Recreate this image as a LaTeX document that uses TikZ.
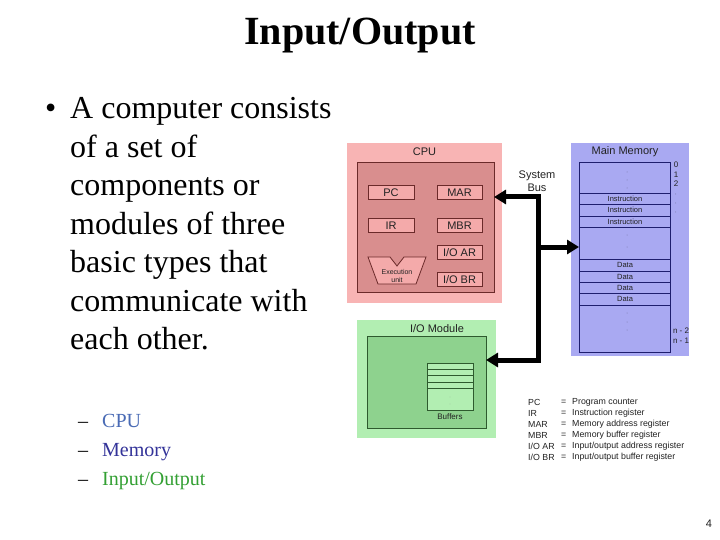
\documentclass[tikz,border=0pt]{standalone}
\usepackage{fontspec}
\setmainfont{Liberation Serif}
\newfontfamily\arialf{Liberation Sans}
\usetikzlibrary{arrows.meta}
\definecolor{cpuout}{HTML}{F8B4B4}
\definecolor{cpuin}{HTML}{D98E8E}
\definecolor{cpureg}{HTML}{F4AAAA}
\definecolor{cpuline}{HTML}{6B2A2A}
\definecolor{memfill}{HTML}{A9A9F2}
\definecolor{memline}{HTML}{1E1E6E}
\definecolor{ioout}{HTML}{B2EEB2}
\definecolor{ioin}{HTML}{8ED28E}
\definecolor{ioline}{HTML}{2E5A2E}
\definecolor{cpuc}{HTML}{4A6BB5}
\definecolor{memc}{HTML}{333399}
\definecolor{ioc}{HTML}{33A033}
\definecolor{dtext}{HTML}{222222}
\begin{document}
\begin{tikzpicture}[x=1pt,y=-1pt,
  box/.style={inner sep=0pt,outer sep=0pt},
  reg/.style={box,draw=cpuline,fill=cpureg,line width=0.8pt,minimum height=14pt,font=\arialf\fontsize{11}{12}\selectfont,text=dtext},
  lbl/.style={inner sep=0pt,font=\arialf\fontsize{11}{12}\selectfont,text=dtext},
  cell/.style={inner sep=0pt,font=\arialf\fontsize{7.5}{8}\selectfont,text=dtext},
  leg/.style={inner sep=0pt,anchor=west,font=\arialf\fontsize{8.8}{10}\selectfont,text=dtext},
  big/.style={inner sep=0pt,anchor=base west,font=\fontsize{32}{38}\selectfont},
  small/.style={inner sep=0pt,anchor=base west,font=\fontsize{20}{24}\selectfont},
  bus/.style={line width=5pt,line join=miter,draw=black},
  tip/.tip={Triangle[length=12pt,width=14pt]}
]
\useasboundingbox[fill=white] (0,0) rectangle (720,540);

% title
\node[inner sep=0pt,anchor=base,font=\bfseries\fontsize{40}{48}\selectfont] (title) at (360,45) {Input/Output};

% bullet text
\node[big] (bul) at (45,119) {\textbullet};
\node[big] (l1) at (70,119) {A computer consists};
\node[big] (l2) at (70,157.4) {of a set of};
\node[big] (l3) at (70,195.8) {components or};
\node[big] (l4) at (70,234.2) {modules of three};
\node[big] (l5) at (70,272.6) {basic types that};
\node[big] (l6) at (70,311) {communicate with};
\node[big] (l7) at (70,349.4) {each other.};

\node[small] (d1) at (78,427) {–};
\node[small] (d2) at (78,456) {–};
\node[small] (d3) at (78,485) {–};
\node[small,text=cpuc] (s1) at (102,427) {CPU};
\node[small,text=memc] (s2) at (102,456) {Memory};
\node[small,text=ioc] (s3) at (102,485) {Input/Output};

% CPU
\node[box,fill=cpuout,minimum width=155pt,minimum height=160pt] (cpu) at (424.5,223) {};
\node[lbl] (cpulbl) at (424.5,152) {CPU};
\node[box,draw=cpuline,fill=cpuin,line width=0.8pt,minimum width=137pt,minimum height=130pt] (cpuin) at (425.5,227) {};
\node[reg,minimum width=46pt] (pc) at (391,192.5) {PC};
\node[reg,minimum width=45pt] (mar) at (459.5,192.5) {MAR};
\node[reg,minimum width=46pt] (ir) at (391,225.5) {IR};
\node[reg,minimum width=45pt] (mbr) at (459.5,225.5) {MBR};
\node[reg,minimum width=45pt] (ioar) at (459.5,252.5) {I/O AR};
\node[reg,minimum width=45pt] (iobr) at (459.5,279.7) {I/O BR};
\draw[draw=cpuline,fill=cpureg,line width=0.8pt] (368,257) -- (390,257) -- (397,266) -- (404,257) -- (426,257) -- (416,284) -- (378,284) -- cycle;
\node[cell,font=\arialf\fontsize{7}{8}\selectfont] (ex1) at (397,272) {Execution};
\node[cell,font=\arialf\fontsize{7}{8}\selectfont] (ex2) at (397,279.5) {unit};

% Main memory
\node[box,fill=memfill,minimum width=118pt,minimum height=213pt] (mem) at (630,249.5) {};
\node[lbl] (memlbl) at (625,152) {Main Memory};
\node[box,draw=memline,fill=memfill,line width=0.9pt,minimum width=91pt,minimum height=190pt] (memin) at (624.5,257) {};
\foreach \yy in {193,204,216,227,259,271,282,293,305}
  \draw[memline,line width=0.9pt] (memin.west |- 0,\yy) -- (memin.east |- 0,\yy);
\node[cell] (i1) at (625,198.5) {Instruction};
\node[cell] (i2) at (625,210) {Instruction};
\node[cell] (i3) at (625,221.5) {Instruction};
\node[cell] (da1) at (625,265) {Data};
\node[cell] (da2) at (625,276.5) {Data};
\node[cell] (da3) at (625,287.5) {Data};
\node[cell] (da4) at (625,299) {Data};
\foreach \yy in {172,180,188,235,247,313,322,330}
  \fill[memline!60] (627,\yy) circle (0.5pt);
\node[cell,font=\arialf\fontsize{8}{9}\selectfont] (a0) at (676,165) {0};
\node[cell,font=\arialf\fontsize{8}{9}\selectfont] (a1) at (676,174.5) {1};
\node[cell,font=\arialf\fontsize{8}{9}\selectfont] (a2) at (676,183.5) {2};
\foreach \yy in {194,203,212}
  \fill[memline!60] (675.5,\yy) circle (0.5pt);
\node[cell,font=\arialf\fontsize{8}{9}\selectfont] (an2) at (681,331) {n - 2};
\node[cell,font=\arialf\fontsize{8}{9}\selectfont] (an1) at (681,341) {n - 1};

% I/O module
\node[box,fill=ioout,minimum width=139pt,minimum height=118pt] (io) at (426.5,379) {};
\node[lbl] (iolbl) at (437,329) {I/O Module};
\node[box,draw=ioline,fill=ioin,line width=0.8pt,minimum width=119pt,minimum height=92pt] (ioin) at (426.5,382) {};
\node[box,draw=ioline,fill=ioout,line width=0.7pt,minimum width=46pt,minimum height=47pt] (buf) at (450,386.5) {};
\foreach \yy in {369,375.5,382,388.5}
  \draw[ioline,line width=0.7pt] (buf.west |- 0,\yy) -- (buf.east |- 0,\yy);
\foreach \yy in {397,404}
  \fill[ioline!50] (450,\yy) circle (0.4pt);
\node[cell,font=\arialf\fontsize{8}{9}\selectfont] (buflbl) at (450,416.5) {Buffers};

% system bus
\node[lbl,align=center,font=\arialf\fontsize{11}{13}\selectfont] (sbus) at (537,181.5) {System\\Bus};
\coordinate (bt) at (538,197);
\coordinate (bm) at (538,247);
\coordinate (bb) at (538,360);
\draw[bus,{tip}-{tip}] (cpuin.east |- bt) -- (bt) -- (bb) -- (ioin.east |- bb);
\draw[bus,-{tip}] (bm) -- (memin.west |- bm);

% legend
\node[leg] (la0) at (528,402) {PC};
\node[leg] (la1) at (528,413) {IR};
\node[leg] (la2) at (528,424) {MAR};
\node[leg] (la3) at (528,435) {MBR};
\node[leg] (la4) at (528,446) {I/O AR};
\node[leg] (la5) at (528,457) {I/O BR};
\foreach \i in {0,...,5}
  \node[leg] (le\i) at (561,402+11*\i) {=};
\node[leg] (ld0) at (572,402) {Program counter};
\node[leg] (ld1) at (572,413) {Instruction register};
\node[leg] (ld2) at (572,424) {Memory address register};
\node[leg] (ld3) at (572,435) {Memory buffer register};
\node[leg] (ld4) at (572,446) {Input/output address register};
\node[leg] (ld5) at (572,457) {Input/output buffer register};

% page number
\node[lbl] (pg) at (709,524) {4};
\end{tikzpicture}
\end{document}
